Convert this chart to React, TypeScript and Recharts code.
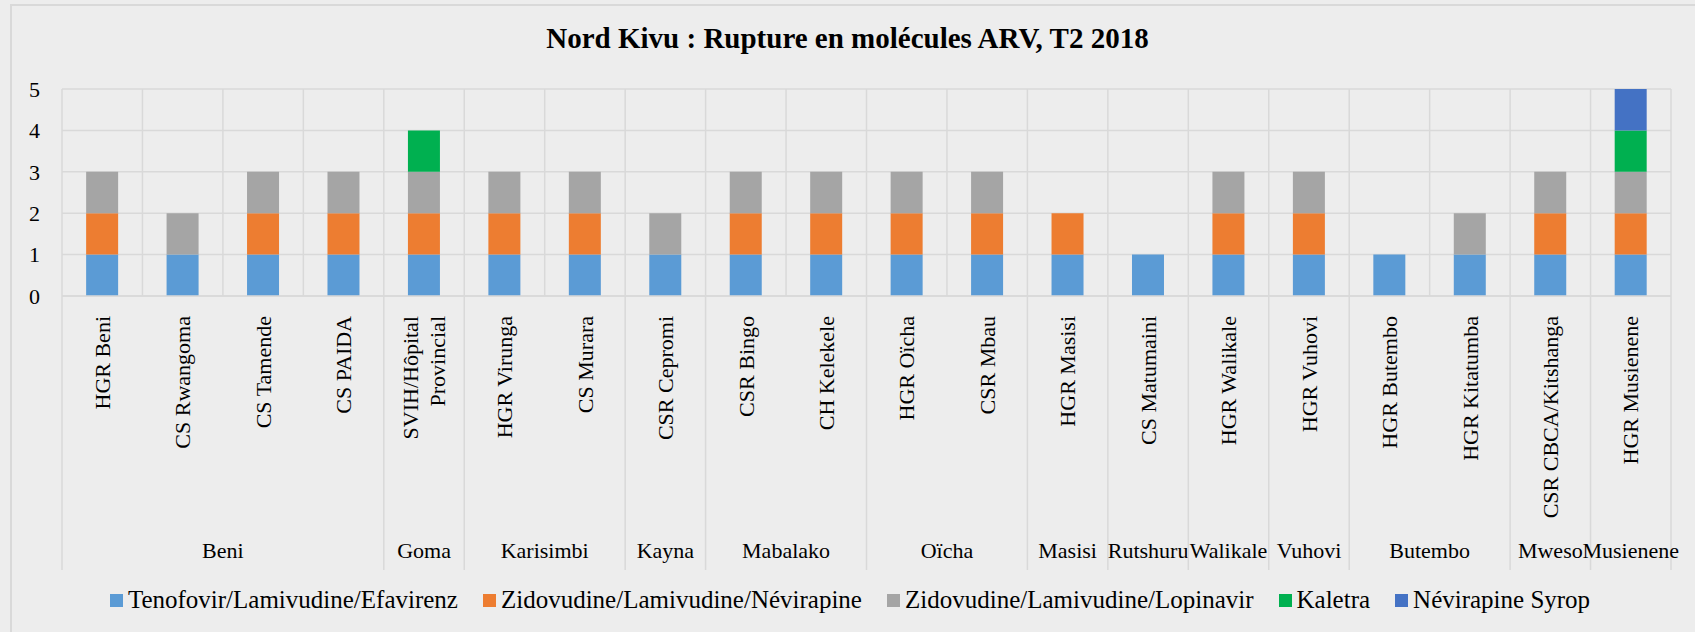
import React from "react"
import { BarChart, Bar, XAxis, YAxis, CartesianGrid, Legend } from "recharts"

// sites (x axis, level 1) and their zone (level 2)
const sites = [
  "HGR Beni", "CS Rwangoma", "CS Tamende", "CS PAIDA", "SVIH/Hôpital|Provincial",
  "HGR Virunga", "CS Murara", "CSR Cepromi", "CSR Bingo", "CH Kelekele",
  "HGR Oïcha", "CSR Mbau", "HGR Masisi", "CS Matumaini", "HGR Walikale",
  "HGR Vuhovi", "HGR Butembo", "HGR Kitatumba", "CSR CBCA/Kitshanga", "HGR Musienene",
]
const zones = [
  "Beni", "Beni", "Beni", "Beni", "Goma",
  "Karisimbi", "Karisimbi", "Kayna", "Mabalako", "Mabalako",
  "Oïcha", "Oïcha", "Masisi", "Rutshuru", "Walikale",
  "Vuhovi", "Butembo", "Butembo", "Mweso", "Musienene",
]

const tenofovir = [1, 1, 1, 1, 1, 1, 1, 1, 1, 1, 1, 1, 1, 1, 1, 1, 1, 1, 1, 1]
const zidoNevi = [1, 0, 1, 1, 1, 1, 1, 0, 1, 1, 1, 1, 1, 0, 1, 1, 0, 0, 1, 1]
const zidoLopi = [1, 1, 1, 1, 1, 1, 1, 1, 1, 1, 1, 1, 0, 0, 1, 1, 0, 1, 1, 1]
const kaletra = [0, 0, 0, 0, 1, 0, 0, 0, 0, 0, 0, 0, 0, 0, 0, 0, 0, 0, 0, 1]
const neviSyrop = [0, 0, 0, 0, 0, 0, 0, 0, 0, 0, 0, 0, 0, 0, 0, 0, 0, 0, 0, 1]

const yTicks = [0, 1, 2, 3, 4, 5]

const series = [
  { key: "tdf", name: "Tenofovir/Lamivudine/Efavirenz", color: "#5b9bd5", values: tenofovir },
  { key: "azt_nvp", name: "Zidovudine/Lamivudine/Névirapine", color: "#ed7d31", values: zidoNevi },
  { key: "azt_lpv", name: "Zidovudine/Lamivudine/Lopinavir", color: "#a5a5a5", values: zidoLopi },
  { key: "kaletra", name: "Kaletra", color: "#00b050", values: kaletra },
  { key: "nvp", name: "Névirapine Syrop", color: "#4472c4", values: neviSyrop },
]

const data = sites.map((site, i) => {
  const row: any = { site, zone: zones[i] }
  series.forEach(s => { row[s.key] = s.values[i] })
  return row
})

const W = 1695
const H = 632
const M = { top: 89, right: 24, left: 0, bottom: 0 }
const Y_W = 62
const plotW = W - M.left - M.right - Y_W
const band = plotW / sites.length
const FONT = "'Liberation Serif', 'Times New Roman', serif"
const GRID = "#d9d9d9"

const SiteTick = (props: any) => {
  const { x, y, payload } = props
  const lines = String(payload.value).split("|")
  const gap = 27
  const start = -((lines.length - 1) * gap) / 2
  return (
    <g transform={`translate(${x},${y + 12}) rotate(-90)`}>
      <text textAnchor="end" fontFamily={FONT} fontSize={22} fill="#000">
        {lines.map((l, i) => (
          <tspan key={i} x={0} y={start + i * gap} dy="0.35em">{l}</tspan>
        ))}
      </text>
    </g>
  )
}

const ZoneTick = (props: any) => {
  const { x, y, index } = props
  const zone = zones[index]
  const first = index === 0 || zones[index - 1] !== zone
  if (!first) return null
  let n = 1
  while (index + n < zones.length && zones[index + n] === zone) n++
  const left = x - band / 2
  const last = index + n === zones.length
  const top = y - 230
  return (
    <g>
      <line x1={left} x2={left} y1={top} y2={y + 44} stroke={GRID} strokeWidth={1.5} />
      {last && <line x1={left + n * band} x2={left + n * band} y1={top} y2={y + 44} stroke={GRID} strokeWidth={1.5} />}
      <text x={left + (n * band) / 2} y={y + 32} textAnchor="middle" fontFamily={FONT} fontSize={22} fill="#000">
        {zone}
      </text>
    </g>
  )
}

const LegendContent = () => (
  <div style={{ display: "flex", justifyContent: "center", alignItems: "center", fontFamily: FONT, fontSize: 25, color: "#000", paddingLeft: 54, paddingTop: 4 }}>
    {series.map(s => (
      <div key={s.key} style={{ display: "flex", alignItems: "center", marginRight: 25 }}>
        <span style={{ display: "inline-block", width: 13, height: 13, background: s.color, marginRight: 5 }} />
        <span>{s.name}</span>
      </div>
    ))}
  </div>
)

export default function App() {
  return (
    <div style={{ position: "absolute", left: 0, top: 0, width: W, height: H, background: "#ededed", overflow: "hidden" }}>
      <div style={{ position: "absolute", left: 10, top: 4, width: W, height: H, border: `2px solid ${GRID}`, boxSizing: "border-box" }} />
      <div style={{ position: "absolute", left: 0, top: 22, width: W, textAlign: "center", fontFamily: FONT, fontWeight: "bold", fontSize: 29, color: "#000" }}>
        Nord Kivu : Rupture en molécules ARV, T2 2018
      </div>
      <BarChart width={W} height={H} data={data} margin={M} barCategoryGap="30%">
        <CartesianGrid
          stroke={GRID}
          strokeWidth={1.5}
          verticalCoordinatesGenerator={({ offset }: any) =>
            sites.map((_, i) => offset.left + i * (offset.width / sites.length)).concat([offset.left + offset.width])
          }
        />
        <XAxis dataKey="site" interval={0} height={230} tick={<SiteTick />} tickLine={false} axisLine={{ stroke: GRID, strokeWidth: 1.5 }} />
        <XAxis dataKey="zone" xAxisId="zone" interval={0} height={56} tick={<ZoneTick />} tickLine={false} axisLine={false} tickSize={0} tickMargin={0} />
        <YAxis
          width={Y_W}
          domain={[0, 5]}
          ticks={yTicks}
          interval={0}
          tickLine={false}
          axisLine={false}
          tickSize={0}
          tickMargin={22}
          tick={{ fontFamily: FONT, fontSize: 22, fill: "#000" }}
        />
        {series.map(s => (
          <Bar key={s.key} dataKey={s.key} name={s.name} stackId="a" fill={s.color} isAnimationActive={false} />
        ))}
        <Legend verticalAlign="bottom" height={50} content={<LegendContent />} />
      </BarChart>
    </div>
  )
}
